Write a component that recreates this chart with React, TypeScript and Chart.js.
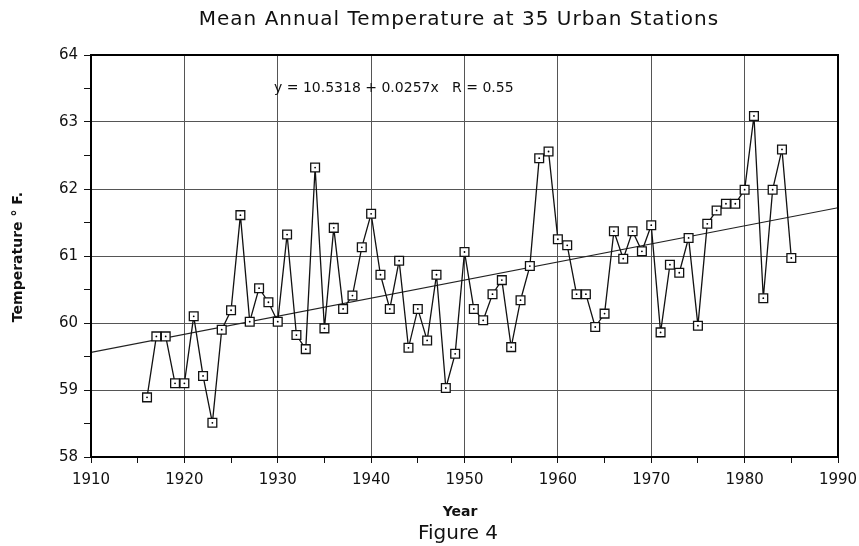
import React, { useEffect, useRef } from "react";
import { Chart, registerables } from "chart.js";

Chart.register(...registerables);

const years = [
  1916, 1917, 1918, 1919, 1920, 1921, 1922, 1923, 1924, 1925,
  1926, 1927, 1928, 1929, 1930, 1931, 1932, 1933, 1934, 1935,
  1936, 1937, 1938, 1939, 1940, 1941, 1942, 1943, 1944, 1945,
  1946, 1947, 1948, 1949, 1950, 1951, 1952, 1953, 1954, 1955,
  1956, 1957, 1958, 1959, 1960, 1961, 1962, 1963, 1964, 1965,
  1966, 1967, 1968, 1969, 1970, 1971, 1972, 1973, 1974, 1975,
  1976, 1977, 1978, 1979, 1980, 1981, 1982, 1983, 1984, 1985,
];

const temps = [
  58.89, 59.8, 59.8, 59.1, 59.1, 60.1, 59.21, 58.51, 59.9, 60.19,
  61.61, 60.02, 60.52, 60.31, 60.02, 61.32, 59.82, 59.61, 62.32, 59.92,
  61.42, 60.21, 60.41, 61.13, 61.63, 60.72, 60.21, 60.93, 59.63, 60.21,
  59.74, 60.72, 59.03, 59.54, 61.06, 60.21, 60.04, 60.43, 60.64, 59.64,
  60.34, 60.85, 62.46, 62.56, 61.25, 61.16, 60.43, 60.43, 59.94, 60.14,
  61.37, 60.96, 61.37, 61.07, 61.46, 59.86, 60.87, 60.75, 61.27, 59.96,
  61.48, 61.68, 61.78, 61.78, 61.99, 63.09, 60.37, 61.99, 62.59, 60.97,
];

const trendYears = [1910, 1990];
const trendTemps = [59.56, 61.72];

const xTickLabels = ["1910", "1920", "1930", "1940", "1950", "1960", "1970", "1980", "1990"];
const yTickLabels = ["58", "59", "60", "61", "62", "63", "64"];

const chartTitle = "Mean Annual Temperature at 35 Urban Stations";
const equationText = "y = 10.5318 + 0.0257x   R = 0.55";
const xTitle = "Year";
const yTitle = "Temperature ° F.";
const figureCaption = "Figure 4";

const FONT = "'DejaVu Sans', sans-serif";

export default function App() {
  const ref = useRef<HTMLCanvasElement | null>(null);

  useEffect(() => {
    if (!ref.current) return;
    const points = years.map((y, i) => ({ x: y, y: temps[i] }));
    const trend = trendYears.map((y, i) => ({ x: y, y: trendTemps[i] }));

    const textPlugin = {
      id: "texts",
      afterDatasetsDraw(chart: any) {
        const { ctx, chartArea } = chart;
        ctx.save();
        ctx.strokeStyle = "#000";
        ctx.lineWidth = 2;
        ctx.strokeRect(chartArea.left, chartArea.top, chartArea.right - chartArea.left, chartArea.bottom - chartArea.top);
        const xs = chart.scales.x;
        const ys = chart.scales.y;
        ctx.fillStyle = "#111";
        ctx.textBaseline = "middle";

        ctx.font = `14px ${FONT}`;
        ctx.textAlign = "left";
        ctx.fillText(equationText, xs.getPixelForValue(1929.6), ys.getPixelForValue(63.5));

        ctx.textAlign = "center";
        ctx.font = `20px ${FONT}`;
        (ctx as any).letterSpacing = "1px";
        ctx.fillText(chartTitle, 459, 20);
        (ctx as any).letterSpacing = "0px";

        ctx.font = `20px ${FONT}`;
        ctx.fillText(figureCaption, 458, 534);

        ctx.font = `bold 14px ${FONT}`;
        ctx.fillText(xTitle, 460, 512);

        ctx.translate(18, 257);
        ctx.rotate(-Math.PI / 2);
        ctx.font = `bold 14px ${FONT}`;
        ctx.fillText(yTitle, 0, 0);
        ctx.restore();
      },
    };

    const chart = new Chart(ref.current, {
      type: "line",
      data: {
        datasets: [
          {
            data: points,
            showLine: false,
            pointStyle: "circle",
            pointRadius: 0.9,
            pointBackgroundColor: "#000",
            pointBorderWidth: 0,
            order: 0,
          },
          {
            data: points,
            borderColor: "#111",
            borderWidth: 1.3,
            pointStyle: "rect",
            pointRadius: 6.2,
            pointBackgroundColor: "#fff",
            pointBorderColor: "#111",
            pointBorderWidth: 1.3,
            order: 1,
          },
          {
            data: trend,
            borderColor: "#222",
            borderWidth: 1.2,
            pointRadius: 0,
            order: 2,
          },
        ],
      },
      options: {
        animation: false,
        responsive: false,
        events: [],
        layout: { padding: { left: 0, right: 21, top: 55, bottom: 49 } },
        plugins: {
          legend: { display: false },
          tooltip: { enabled: false },
          title: { display: false },
        },
        scales: {
          x: {
            type: "linear",
            min: 1910,
            max: 1990,
            afterFit: (s: any) => {
              s.paddingRight = 0;
              s.paddingLeft = 0;
            },
            ticks: {
              stepSize: 5,
              autoSkip: false,
              maxRotation: 0,
              color: "#111",
              padding: 8,
              font: { family: FONT, size: 15 },
              callback: (v: any) => {
                const s = String(v);
                return xTickLabels.includes(s) ? s : "";
              },
            },
            grid: {
              color: (c: any) => (c.tick && c.tick.value % 10 === 0 ? "#555" : "rgba(0,0,0,0)"),
              tickColor: "#111",
              tickLength: 6,
              lineWidth: 1,
            },
            border: { display: true, color: "#000", width: 2 },
          },
          y: {
            min: 58,
            max: 64,
            afterFit: (s: any) => {
              s.width = 91;
            },
            ticks: {
              stepSize: 0.5,
              autoSkip: false,
              color: "#111",
              padding: 6,
              font: { family: FONT, size: 15 },
              callback: (v: any) => {
                const s = String(v);
                return yTickLabels.includes(s) ? s : "";
              },
            },
            grid: {
              color: (c: any) => (c.tick && Number.isInteger(c.tick.value) ? "#555" : "rgba(0,0,0,0)"),
              tickColor: "#111",
              tickLength: 7,
              lineWidth: 1,
            },
            border: { display: true, color: "#000", width: 2 },
          },
        },
      },
      plugins: [textPlugin],
    } as any);

    return () => chart.destroy();
  }, []);

  return (
    <div style={{ position: "fixed", left: 0, top: 0, width: 859, height: 546, background: "#fff" }}>
      <canvas ref={ref} width={859} height={546} style={{ width: 859, height: 546 }} />
    </div>
  );
}
